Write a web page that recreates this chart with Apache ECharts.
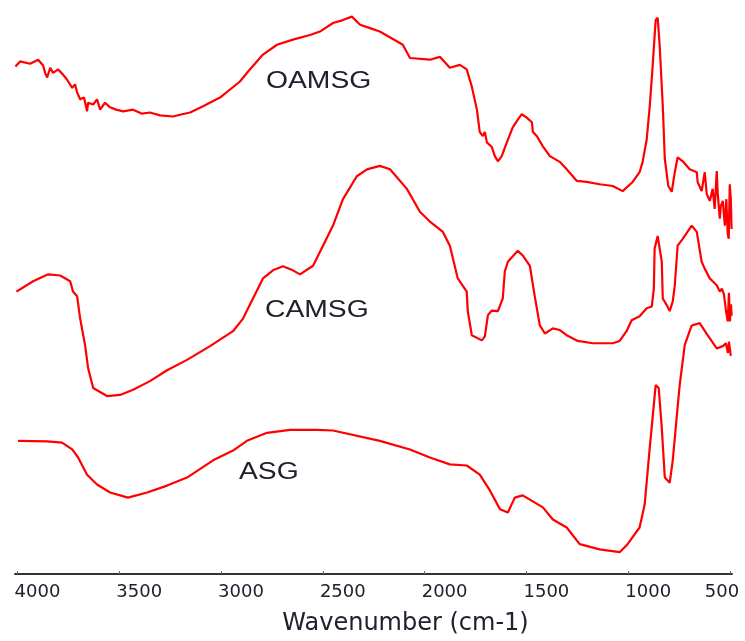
<!DOCTYPE html>
<html>
<head>
<meta charset="utf-8">
<script src="https://cdn.jsdelivr.net/npm/echarts@6/dist/echarts.min.js"></script>
<style>html,body{margin:0;padding:0;background:#fff}#c{width:745px;height:641px}</style>
</head>
<body>
<div id="c"></div>
<script>
// ---- data (wavenumber in cm-1, intensity in arbitrary units) ----
const tickValues = [500, 1000, 1500, 2000, 2500, 3000, 3500, 4000];

const oamsgWave = [4010,3987,3938,3898,3874,3864,3854,3839,3825,3800,3776,3756,3731,3717,3707,3692,3673,3658,3653,3628,3609,3594,3570,3545,3515,3481,3432,3388,3349,3300,3236,3191,3152,3088,3005,2907,2868,2824,2794,2725,2647,2563,2514,2450,2401,2357,2317,2268,2220,2107,2072,1974,1925,1876,1827,1793,1768,1743,1729,1714,1704,1694,1670,1655,1640,1621,1596,1567,1547,1523,1498,1473,1468,1449,1419,1385,1336,1302,1253,1204,1140,1076,1027,978,944,929,909,894,880,865,855,845,830,820,803,786,771,757,732,698,663,659,639,624,614,599,585,575,565,560,550,545,535,530,525,518,511,506,501,496,492];
const oamsgVal  = [88.4,89.3,88.9,89.6,88.6,87.3,86.5,88.2,87.3,87.9,87.0,86.1,84.7,85.3,83.9,82.7,83.0,80.6,82.1,81.8,82.7,80.9,82.1,81.3,80.9,80.6,80.9,80.2,80.4,79.9,79.7,80.1,80.4,81.5,83.0,85.8,87.5,89.3,90.5,92.2,93.1,93.9,94.5,96.0,96.5,97.1,95.7,95.1,94.5,92.2,89.9,89.6,90.1,88.2,88.7,87.9,84.9,80.9,77.0,76.3,77.0,75.2,74.4,72.8,71.9,72.8,75.2,77.8,78.9,80.1,79.5,78.7,77.0,76.3,74.5,72.8,71.8,70.5,68.5,68.3,67.9,67.6,66.7,68.3,70.0,71.8,75.7,81.5,88.4,96.5,96.9,91.9,81.5,72.3,67.6,66.6,70.0,72.6,71.9,70.5,70.0,68.3,66.7,70.0,66.2,65.0,67.1,63.6,70.2,66.2,61.9,64.1,65.0,62.7,60.7,65.3,59.3,58.4,67.9,65.3,60.1];

const camsgWave = [4005,3923,3849,3790,3741,3727,3707,3692,3668,3653,3628,3560,3496,3432,3349,3265,3167,3054,2941,2892,2843,2794,2745,2696,2647,2612,2548,2499,2450,2401,2333,2283,2220,2170,2087,2023,1974,1910,1876,1837,1793,1788,1768,1719,1704,1689,1670,1640,1616,1606,1591,1542,1518,1483,1459,1434,1409,1370,1336,1302,1248,1174,1076,1042,1008,983,944,909,884,874,870,855,835,830,810,796,781,771,757,732,688,663,639,624,599,585,565,550,540,530,520,511,505,500,495,492];
const camsgVal  = [49.2,51.0,52.2,52.0,51.0,49.2,48.4,44.5,39.9,35.9,32.4,31.0,31.2,32.1,33.6,35.5,37.3,39.7,42.3,44.5,48.0,51.5,52.9,53.6,52.9,52.2,53.7,57.2,60.7,65.3,69.3,70.5,71.1,70.5,67.1,63.1,61.4,59.6,57.2,51.5,49.2,45.8,41.6,40.7,41.4,45.1,45.9,45.8,48.0,52.7,54.4,56.3,55.5,53.7,48.4,43.3,41.9,42.8,42.5,41.6,40.6,40.2,40.2,40.6,42.3,44.2,44.9,46.3,46.6,49.7,56.7,58.9,54.4,48.0,46.8,45.8,47.5,50.3,57.2,58.4,60.7,59.6,54.4,53.2,51.5,51.0,50.3,49.2,49.7,48.8,46.0,44.0,49.0,44.0,47.0,45.0];

const asgWave = [3997,3854,3781,3731,3702,3658,3609,3545,3457,3363,3265,3167,3039,2941,2873,2774,2661,2529,2450,2220,2072,1974,1876,1793,1729,1680,1630,1591,1557,1518,1419,1370,1302,1238,1140,1042,1003,944,919,894,880,865,850,835,820,796,781,762,747,722,688,649,610,565,535,520,510,505,501,496];
const asgVal  = [23.2,23.1,22.9,21.7,20.3,17.3,15.6,14.2,13.3,14.2,15.4,16.8,19.8,21.5,23.2,24.6,25.1,25.1,25.0,23.2,21.7,20.3,19.1,18.9,17.3,14.6,11.3,10.7,13.3,13.7,11.6,9.5,8.1,5.2,4.3,3.8,5.2,8.1,12.1,22.0,27.2,32.9,32.4,25.5,16.8,15.9,19.8,27.2,32.9,39.9,43.3,43.7,41.6,39.3,39.7,40.2,38.5,40.5,40.6,38.0];

const seriesNames = ['OAMSG', 'CAMSG', 'ASG'];
const xAxisTitle = 'Wavenumber (cm-1)';

// ---- chart ----
function zip(xs, ys) { return xs.map((x, i) => [x, ys[i]]); }
const chart = echarts.init(document.getElementById('c'), null, { renderer: 'canvas' });
const lineStyle = { color: '#ff0000', width: 2.2 };
const labelFont = '23px "Liberation Sans", Arial, sans-serif';
const textColor = '#20202e';

chart.setOption({
  animation: false,
  backgroundColor: '#ffffff',
  grid: { left: 15, right: 13, top: 0, bottom: 64, containLabel: false },
  xAxis: {
    type: 'value',
    inverse: true,
    min: 490,
    max: 4012,
    splitLine: { show: false },
    axisLine: { show: true, onZero: false, lineStyle: { color: '#333333', width: 2 } },
    axisTick: { show: true, inside: true, length: 3, customValues: tickValues, lineStyle: { color: '#666666', width: 1 } },
    axisLabel: {
      show: true,
      customValues: tickValues,
      margin: 9,
      align: 'center',
      color: textColor,
      fontFamily: '"DejaVu Sans", sans-serif',
      fontSize: 18,
      formatter: function (v) { return v === 500 ? '{e|' + v + '}' : '{n|' + v + '}'; },
      rich: {
        n: { padding: [0, 0, 0, 40], fontFamily: '"DejaVu Sans", sans-serif', fontSize: 18, color: textColor },
        e: { padding: [0, 16, 0, 0], fontFamily: '"DejaVu Sans", sans-serif', fontSize: 18, color: textColor }
      }
    },
    name: xAxisTitle,
    nameLocation: 'middle',
    nameGap: 38,
    nameTextStyle: { color: textColor, fontFamily: '"DejaVu Sans", sans-serif', fontSize: 24, padding: [0, 0, 0, 64] }
  },
  yAxis: { type: 'value', min: 0, max: 100, show: false, splitLine: { show: false } },
  series: [
    { name: seriesNames[0], type: 'line', data: zip(oamsgWave, oamsgVal), symbol: 'none', lineStyle: lineStyle, z: 3 },
    { name: seriesNames[1], type: 'line', data: zip(camsgWave, camsgVal), symbol: 'none', lineStyle: lineStyle, z: 3 },
    { name: seriesNames[2], type: 'line', data: zip(asgWave, asgVal), symbol: 'none', lineStyle: lineStyle, z: 3 }
  ],
  graphic: [
    { type: 'text', x: 266, y: 82, scaleX: 1.23, style: { text: seriesNames[0], font: labelFont, fill: textColor, textAlign: 'left', textVerticalAlign: 'middle' } },
    { type: 'text', x: 265, y: 311, scaleX: 1.23, style: { text: seriesNames[1], font: labelFont, fill: textColor, textAlign: 'left', textVerticalAlign: 'middle' } },
    { type: 'text', x: 239, y: 473, scaleX: 1.23, style: { text: seriesNames[2], font: labelFont, fill: textColor, textAlign: 'left', textVerticalAlign: 'middle' } }
  ]
});
</script>
</body>
</html>
